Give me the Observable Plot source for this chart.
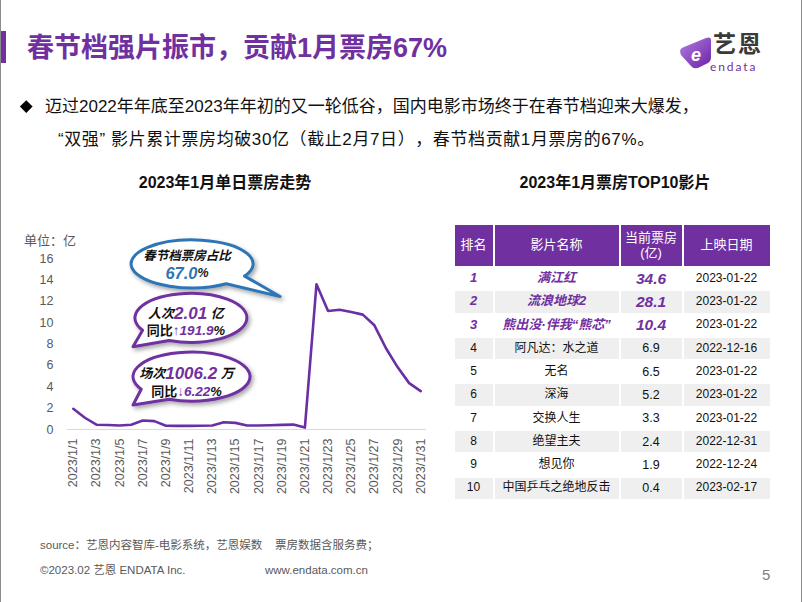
<!DOCTYPE html>
<html><head><meta charset="utf-8">
<script src="https://cdn.jsdelivr.net/npm/d3@7"></script>
<script src="https://cdn.jsdelivr.net/npm/@observablehq/plot@0.6"></script>
<style>
html,body{margin:0;padding:0;background:#fff;}
#page{position:relative;width:802px;height:602px;overflow:hidden;background:#fff;font-family:"Liberation Sans","Noto Sans CJK SC",sans-serif;text-spacing-trim:space-all;}
.edge{position:absolute;top:0;width:1px;height:602px;background:#8c8c8c;}
.abs{position:absolute;white-space:nowrap;line-height:1;}
#title{left:27px;top:35px;font-size:27px;font-weight:bold;color:#7030A0;}
#bar{position:absolute;left:1px;top:31px;width:5px;height:32px;background:#7030A0;}
.bullet{font-size:17px;color:#111;}
.subtitle{font-size:16px;font-weight:bold;color:#111;transform:translateX(-50%);}
#unit{left:24px;top:234px;font-size:13px;color:#595959;}
.foot{font-size:11.5px;color:#595959;}
#chart{position:absolute;left:0;top:220px;}
#tbl{position:absolute;left:452.5px;top:223px;border-collapse:separate;border-spacing:2.5px 2px;table-layout:fixed;font-family:"Liberation Sans","Noto Sans CJK SC",sans-serif;}
#tbl td,#tbl th{padding:0;text-align:center;vertical-align:middle;line-height:1.15;}
#tbl th{background:#7030A0;color:#fff;font-weight:normal;font-size:13px;height:41px;}
#tbl td{height:21.3px;font-size:12px;color:#111;}
#tbl tr.even td{background:#EFEFEF;}
#tbl td.top{color:#7030A0;font-weight:bold;font-style:italic;font-size:13px;}
#tbl td.topv{color:#7030A0;font-weight:bold;font-style:italic;font-size:15.5px;}
</style></head><body><div id="page">
<div class="edge" style="left:0"></div>
<div class="edge" style="left:801px"></div>
<div id="bar"></div>
<div class="abs" id="title">春节档强片振市，贡献1月票房67%</div>
<svg class="abs" style="left:676px;top:20px" width="110" height="58">
  <defs><linearGradient id="lg" x1="0" y1="0" x2="1" y2="1"><stop offset="0" stop-color="#B37FE0"/><stop offset="1" stop-color="#6A22A8"/></linearGradient></defs>
  <path d="M35,22 Q36,16 30,18 L8,27 Q2,29 5,35 L15,46 Q18,50 24,47 L32,43 Q35,41 35,37 Z" fill="url(#lg)"/>
  <text x="20" y="41" font-size="18" font-weight="bold" font-style="italic" fill="#fff" text-anchor="middle" font-family="Liberation Sans">e</text>
  <text x="37" y="32" font-size="23" font-weight="bold" fill="#3a3a3a" letter-spacing="2" font-family="Noto Sans CJK SC">艺恩</text>
  <text x="34" y="51" font-size="12" fill="#7030A0" letter-spacing="1.9" font-family="Lato, Liberation Sans">endata</text>
</svg>
<div style="position:absolute;left:21.5px;top:102px;width:8.5px;height:8.5px;background:#000;transform:rotate(45deg);"></div>
<div class="abs bullet" style="left:45px;top:98px;">迈过2022年年底至2023年年初的又一轮低谷，国内电影市场终于在春节档迎来大爆发，</div>
<div class="abs bullet" style="left:58px;top:131px;letter-spacing:0.6px;">“双强” 影片累计票房均破30亿（截止2月7日），春节档贡献1月票房的67%。</div>
<div class="abs subtitle" style="left:225px;top:175px;">2023年1月单日票房走势</div>
<div class="abs subtitle" style="left:615px;top:175px;">2023年1月票房TOP10影片</div>
<div class="abs" id="unit">单位：亿</div>
<div id="chart"></div>
<table id="tbl"><colgroup><col style="width:38px"><col style="width:124px"><col style="width:61px"><col style="width:86px"></colgroup><thead></thead><tbody></tbody></table>
<div class="abs foot" style="left:40px;top:540px;">source：艺恩内容智库-电影系统，艺恩娱数&nbsp;&nbsp;&nbsp;&nbsp;票房数据含服务费；</div>
<div class="abs foot" style="left:40px;top:565px;">©2023.02 艺恩 ENDATA Inc.</div>
<div class="abs foot" style="left:265px;top:565px;">www.endata.com.cn</div>
<div class="abs" style="left:762px;top:567px;font-size:15px;color:#7f7f7f;">5</div>
</div>
<script>
// ---- line chart data ----
const dates = ["2023/1/1","2023/1/2","2023/1/3","2023/1/4","2023/1/5","2023/1/6","2023/1/7","2023/1/8","2023/1/9","2023/1/10","2023/1/11","2023/1/12","2023/1/13","2023/1/14","2023/1/15","2023/1/16","2023/1/17","2023/1/18","2023/1/19","2023/1/20","2023/1/21","2023/1/22","2023/1/23","2023/1/24","2023/1/25","2023/1/26","2023/1/27","2023/1/28","2023/1/29","2023/1/30","2023/1/31"];
const dailyBoxOffice = [1.94,1.10,0.45,0.42,0.38,0.45,0.84,0.78,0.35,0.34,0.34,0.35,0.38,0.68,0.62,0.37,0.38,0.40,0.43,0.46,0.18,13.59,11.09,11.20,11.00,10.75,9.75,7.60,5.84,4.34,3.59];
const xTickLabels = ["2023/1/1","2023/1/3","2023/1/5","2023/1/7","2023/1/9","2023/1/11","2023/1/13","2023/1/15","2023/1/17","2023/1/19","2023/1/21","2023/1/23","2023/1/25","2023/1/27","2023/1/29","2023/1/31"];
const yTickValues = [0,2,4,6,8,10,12,14,16];

// ---- table data ----
const tableHeaders = ["排名","影片名称","当前票房<br>(亿)","上映日期"];
const ranks = [1,2,3,4,5,6,7,8,9,10];
const filmNames = ["满江红","流浪地球2","熊出没·伴我“熊芯”","阿凡达：水之道","无名","深海","交换人生","绝望主夫","想见你","中国乒乓之绝地反击"];
const filmBoxOffice = ["34.6","28.1","10.4","6.9","6.5","5.2","3.3","2.4","1.9","0.4"];
const releaseDates = ["2023-01-22","2023-01-22","2023-01-22","2022-12-16","2023-01-22","2023-01-22","2023-01-22","2022-12-31","2022-12-24","2023-02-17"];

const series = dates.map((d, i) => ({date: d, value: dailyBoxOffice[i]}));

const chart = Plot.plot({
  width: 440, height: 300,
  marginLeft: 67, marginRight: 14, marginTop: 38, marginBottom: 91,
  style: {fontFamily: "Liberation Sans, Noto Sans CJK SC, sans-serif", fontSize: "12.5px", color: "#595959", background: "transparent", overflow: "visible"},
  x: {type: "point", domain: dates, padding: 0.5, round: false, label: null, ticks: xTickLabels, tickRotate: -90, tickSize: 0, tickPadding: 9},
  y: {domain: [0, 16], ticks: yTickValues, label: null, tickSize: 0, tickPadding: 14},
  marks: [
    Plot.ruleY([0], {stroke: "#D9D9D9", strokeWidth: 1}),
    Plot.line(series, {x: "date", y: "value", stroke: "#6B2FA5", strokeWidth: 2.6, strokeLinejoin: "round", strokeLinecap: "round"})
  ]
});
document.getElementById("chart").appendChild(chart);

// ---- callout annotations (anchored in data space) ----
const callouts = [
  {cx: 11.3, cy: 15.45, tx: 18.9, ty: 12.4, rx: 61, ry: 24, d: 0.22, stroke: "#2E75B6", off: [-8, 9],
   lines: [[{t: "春节档票房占比", c: "#111", s: 12.5, it: true}], [{t: "67.0", c: "#2E75B6", s: 16.5, it: true}, {t: "%", c: "#222", s: 12.5, it: true}]]},
  {cx: 11.2, cy: 10.4, tx: 6.2, ty: 7.7, rx: 56, ry: 24.5, d: 0.32, stroke: "#7030A0", off: [-5, 12],
   lines: [[{t: "人次", c: "#111", s: 13, it: true}, {t: "2.01", c: "#7030A0", s: 17, it: true}, {t: " 亿", c: "#111", s: 13, it: true}],
           [{t: "同比", c: "#111", s: 13, it: false}, {t: "↑191.9", c: "#7030A0", s: 13.5, it: true}, {t: "%", c: "#111", s: 13, it: true}]]},
  {cx: 11.25, cy: 4.9, tx: 6.2, ty: 2.25, rx: 58.5, ry: 24.5, d: 0.32, stroke: "#7030A0", off: [-4, 14],
   lines: [[{t: "场次", c: "#111", s: 13, it: true}, {t: "1006.2", c: "#7030A0", s: 17, it: true}, {t: " 万", c: "#111", s: 13, it: true}],
           [{t: "同比", c: "#111", s: 13, it: false}, {t: "↓6.22", c: "#7030A0", s: 13.5, it: true}, {t: "%", c: "#111", s: 13, it: true}]]}
];

const xs = chart.scale("x"), ys = chart.scale("y");
const x0 = xs.apply(dates[0]), step = xs.apply(dates[1]) - x0;
const px = day => x0 + (day - 1) * step;
const py = v => ys.apply(v);

const svg = d3.select(chart);
const defs = svg.append("defs");
const f = defs.append("filter").attr("id", "shd").attr("x", "-20%").attr("y", "-20%").attr("width", "150%").attr("height", "160%");
f.append("feDropShadow").attr("dx", 2).attr("dy", 2.5).attr("stdDeviation", 2).attr("flood-color", "#000").attr("flood-opacity", 0.35);

function bubble(cx, cy, rx, ry, tx, ty, delta) {
  const phi = Math.atan2((ty - cy) / ry, (tx - cx) / rx);
  const a1 = phi + delta, a2 = phi - delta;
  const p1 = [cx + rx * Math.cos(a1), cy + ry * Math.sin(a1)];
  const p2 = [cx + rx * Math.cos(a2), cy + ry * Math.sin(a2)];
  return `M${p1[0]},${p1[1]}A${rx},${ry} 0 1 1 ${p2[0]},${p2[1]}L${tx},${ty}Z`;
}

const g = svg.append("g");
callouts.forEach(co => {
  const cx = px(co.cx), cy = py(co.cy), tx = px(co.tx), ty = py(co.ty);
  g.append("path").attr("d", bubble(cx, cy, co.rx, co.ry, tx, ty, co.d))
    .attr("fill", "#fff").attr("stroke", co.stroke).attr("stroke-width", 3)
    .attr("stroke-linejoin", "round").attr("filter", "url(#shd)");
  co.lines.forEach((ln, i) => {
    const t = g.append("text").attr("x", cx - 5).attr("y", cy + (i === 0 ? co.off[0] : co.off[1]))
      .attr("text-anchor", "middle").attr("dominant-baseline", "central")
      .attr("font-weight", "bold")
      .attr("font-family", "Liberation Sans, Noto Sans CJK SC, sans-serif");
    ln.forEach(sp => t.append("tspan").text(sp.t).attr("fill", sp.c).attr("font-size", sp.s)
      .attr("font-style", sp.it ? "italic" : "normal"));
  });
});

// ---- table ----
const thead = d3.select("#tbl thead").append("tr");
tableHeaders.forEach(h => thead.append("th").html(h));
const tbody = d3.select("#tbl tbody");
ranks.forEach((r, i) => {
  const tr = tbody.append("tr").attr("class", i % 2 === 1 ? "even" : "odd");
  const top = i < 3;
  tr.append("td").attr("class", top ? "top" : null).text(r);
  tr.append("td").attr("class", top ? "top" : null).text(filmNames[i]);
  tr.append("td").attr("class", top ? "topv" : null).style("font-size", top ? null : "12.5px").text(filmBoxOffice[i]);
  tr.append("td").text(releaseDates[i]);
});
</script>
</body></html>
